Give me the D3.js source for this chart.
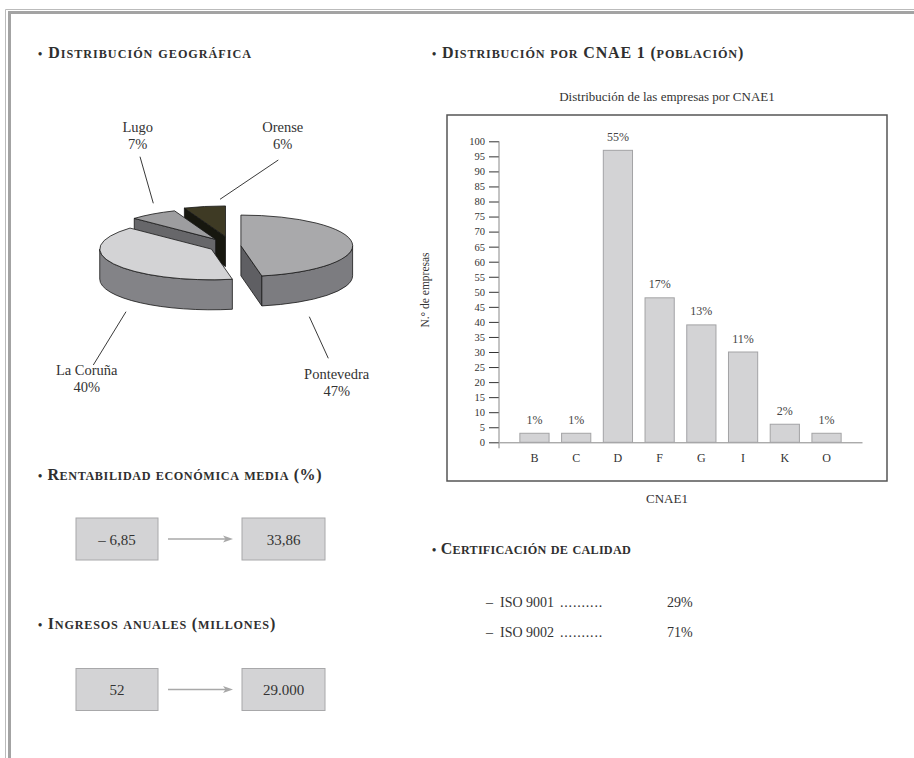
<!DOCTYPE html>
<html>
<head>
<meta charset="utf-8">
<script src="https://cdn.jsdelivr.net/npm/d3@7"></script>
<style>
  html, body { margin: 0; padding: 0; background: #fff; }
  svg { display: block; }
</style>
</head>
<body>
<svg id="page" width="914" height="758"></svg>
<script>
// ---- data ----
// Distribución geográfica (% de empresas por provincia)
const provincias = ["Pontevedra", "La Coruña", "Lugo", "Orense"];
const provinciaPct = [47, 40, 7, 6];

// Distribución por CNAE 1
const cnaeCodes = ["B", "C", "D", "F", "G", "I", "K", "O"];
const cnaeEmpresas = [3, 3, 97, 48, 39, 30, 6, 3];
const cnaePct = [1, 1, 55, 17, 13, 11, 2, 1];
const yTickValues = d3.range(0, 101, 5);

// Rentabilidad económica media (%) e ingresos anuales (millones): mínimo → máximo
const rentabilidad = [-6.85, 33.86];
const ingresos = [52, 29000];

// Certificación de calidad
const isoNormas = ["ISO 9001", "ISO 9002"];
const isoPct = [29, 71];

// ---- setup ----
const svg = d3.select("#page");
const serif = "'Liberation Serif', 'Times New Roman', serif";
const ink = "#333";
const es = d3.formatLocale({ decimal: ",", thousands: ".", grouping: [3], currency: ["", "€"] });
const fmtDec = es.format(",.2f");
const fmtInt = es.format(",d");
const signed = v => (v < 0 ? "– " + fmtDec(-v) : fmtDec(v));

// page frame (double rule top and left)
svg.append("path").attr("d", "M5.5,758V9.5H914")
  .attr("fill", "none").attr("stroke", "#bbbbbb").attr("stroke-width", 1);
svg.append("path").attr("d", "M9.5,758V12.5H914")
  .attr("fill", "none").attr("stroke", "#a3a3a3").attr("stroke-width", 3);

// section heading in small caps, spread to a given width
function heading(x, y, label, width) {
  const t = svg.append("text")
    .attr("x", x).attr("y", y)
    .attr("font-family", serif).attr("font-weight", "bold")
    .attr("fill", "#2f2f2f").attr("font-size", 16);
  t.append("tspan").attr("font-size", 12).text("•");
  t.append("tspan").text(" ");
  const runs = [];
  for (const ch of label) {
    const lower = ch !== ch.toUpperCase();
    const last = runs[runs.length - 1];
    if (last && last.lower === lower) last.s += ch; else runs.push({ lower, s: ch });
  }
  runs.forEach(r => t.append("tspan")
    .attr("font-size", r.lower ? 12.2 : 16)
    .text(r.lower ? r.s.toUpperCase() : r.s));
  const natural = t.node().getComputedTextLength();
  const n = t.text().length;
  t.attr("letter-spacing", Math.max(0, (width - natural) / n).toFixed(3));
}

heading(38, 58, "Distribución geográfica", 214);
heading(432, 58, "Distribución por CNAE 1 (población)", 312);
heading(38, 480, "Rentabilidad económica media (%)", 284);
heading(38, 629, "Ingresos anuales (millones)", 238);
heading(432, 554, "Certificación de calidad", 199);

// ---- 3D exploded pie ----
const pie3d = { cx: 232, cy: 246, rx: 111.7, ry: 30.7, depth: 30 };
const explode = [0.08, 0.21, 0.26, 0.31];
const sliceColors = [
  { top: "#a9a9ab", rim: "#7c7c80", cut: "#5f5f63" },
  { top: "#d3d3d5", rim: "#838387", cut: "#6a6a6d" },
  { top: "#9d9d9f", rim: "#707073", cut: "#67676a" },
  { top: "#3e3a24", rim: "#1a1a12", cut: "#17170f" }
];
const arcs = d3.pie().sort(null).value(d => d)(provinciaPct).map((a, i) => {
  const mid = (a.startAngle + a.endAngle) / 2;
  const e = explode[i];
  return Object.assign(a, {
    i,
    ox: pie3d.cx + e * pie3d.rx * Math.sin(mid),
    oy: pie3d.cy - e * pie3d.ry * Math.cos(mid)
  });
});

const pieG = svg.append("g")
  .attr("stroke", "#161616").attr("stroke-width", 0.8).attr("stroke-linejoin", "round");

function pt(a, th, dz = 0) {
  return [a.ox + pie3d.rx * Math.sin(th), a.oy - pie3d.ry * Math.cos(th) + dz];
}
const f = p => p[0].toFixed(2) + "," + p[1].toFixed(2);

arcs.slice().sort((p, q) => p.oy - q.oy).forEach(a => {
  const c = sliceColors[a.i];
  const d = pie3d.depth;
  // visible radial cut faces
  const faces = [];
  if (Math.sin(a.startAngle) < -1e-6) faces.push(a.startAngle);
  if (Math.sin(a.endAngle) > 1e-6) faces.push(a.endAngle);
  faces.forEach(th => {
    const p = pt(a, th);
    pieG.append("path")
      .attr("d", `M${f([a.ox, a.oy])}L${f(p)}L${f(pt(a, th, d))}L${f([a.ox, a.oy + d])}Z`)
      .attr("fill", c.cut);
  });
  // front part of the outer rim
  const t0 = Math.max(a.startAngle, Math.PI / 2);
  const t1 = Math.min(a.endAngle, 3 * Math.PI / 2);
  if (t1 > t0) {
    const R = `${pie3d.rx},${pie3d.ry} 0 0`;
    pieG.append("path")
      .attr("d", `M${f(pt(a, t0))}A${R} 1 ${f(pt(a, t1))}L${f(pt(a, t1, d))}A${R} 0 ${f(pt(a, t0, d))}Z`)
      .attr("fill", c.rim);
  }
  // top face
  const large = a.endAngle - a.startAngle > Math.PI ? 1 : 0;
  pieG.append("path")
    .attr("d", `M${f([a.ox, a.oy])}L${f(pt(a, a.startAngle))}A${pie3d.rx},${pie3d.ry} 0 ${large} 1 ${f(pt(a, a.endAngle))}Z`)
    .attr("fill", c.top);
});

// slice labels with leader lines (offsets from the pie centre)
const pieLabelLayout = [
  { lx: 104.7, ly: 128, x1: 77.3, y1: 70.7, x2: 96.3, y2: 112.3 },
  { lx: -145.3, ly: 124, x1: -106, y1: 65.7, x2: -138.7, y2: 119 },
  { lx: -94.3, ly: -119, x1: -78.7, y1: -42.7, x2: -92, y2: -89.3 },
  { lx: 50.7, ly: -119, x1: -12, y1: -46.7, x2: 46.3, y2: -86 }
];
const labG = svg.append("g");
provincias.forEach((name, i) => {
  const L = pieLabelLayout[i];
  labG.append("line")
    .attr("x1", pie3d.cx + L.x1).attr("y1", pie3d.cy + L.y1)
    .attr("x2", pie3d.cx + L.x2).attr("y2", pie3d.cy + L.y2)
    .attr("stroke", "#222").attr("stroke-width", 0.9);
  const t = labG.append("text")
    .attr("text-anchor", "middle").attr("font-family", serif)
    .attr("font-size", 14.5).attr("fill", ink);
  t.append("tspan").attr("x", pie3d.cx + L.lx).attr("y", pie3d.cy + L.ly + 5).text(name);
  t.append("tspan").attr("x", pie3d.cx + L.lx).attr("y", pie3d.cy + L.ly + 21.5).text(provinciaPct[i] + "%");
});

// ---- bar chart ----
const frame = { x: 447, y: 115, w: 440, h: 366 };
svg.append("rect")
  .attr("x", frame.x).attr("y", frame.y).attr("width", frame.w).attr("height", frame.h)
  .attr("fill", "none").attr("stroke", "#555").attr("stroke-width", 1.5);

svg.append("text")
  .attr("x", 667).attr("y", 101).attr("text-anchor", "middle")
  .attr("font-family", serif).attr("font-size", 13).attr("fill", ink)
  .text("Distribución de las empresas por CNAE1");

const plot = { left: 499, right: 862, top: 141.3, bottom: 442.3 };
const x = d3.scaleBand().domain(cnaeCodes).range([plot.left, plot.right])
  .paddingInner(0.3).paddingOuter(0.5);
const y = d3.scaleLinear().domain([0, 100]).range([plot.bottom, plot.top]);

const yAxis = svg.append("g")
  .attr("transform", `translate(${plot.left},0)`)
  .call(d3.axisLeft(y).tickValues(yTickValues).tickSize(10).tickPadding(4).tickSizeOuter(0));
yAxis.select(".domain").remove();
yAxis.selectAll(".tick line").attr("stroke", "#333");
yAxis.selectAll(".tick text")
  .attr("font-family", serif).attr("font-size", 10.5).attr("fill", ink);
svg.append("line")
  .attr("x1", plot.left).attr("x2", plot.left)
  .attr("y1", y(100)).attr("y2", y(0) + 6)
  .attr("stroke", "#888").attr("stroke-width", 1);

const xAxis = svg.append("g")
  .attr("transform", `translate(0,${plot.bottom})`)
  .call(d3.axisBottom(x).tickSize(0).tickPadding(11).tickSizeOuter(0));
xAxis.select(".domain").attr("stroke", "#888");
xAxis.selectAll(".tick text")
  .attr("font-family", serif).attr("font-size", 12).attr("fill", ink);

svg.append("g").selectAll("rect")
  .data(cnaeCodes)
  .join("rect")
  .attr("x", d => x(d))
  .attr("width", x.bandwidth())
  .attr("y", (d, i) => y(cnaeEmpresas[i]))
  .attr("height", (d, i) => y(0) - y(cnaeEmpresas[i]))
  .attr("fill", "#d3d3d5").attr("stroke", "#a3a3a5").attr("stroke-width", 1);

svg.append("g").selectAll("text")
  .data(cnaeCodes)
  .join("text")
  .attr("x", d => x(d) + x.bandwidth() / 2)
  .attr("y", (d, i) => y(cnaeEmpresas[i]) - 9.5)
  .attr("text-anchor", "middle")
  .attr("font-family", serif).attr("font-size", 12).attr("fill", "#444")
  .text((d, i) => cnaePct[i] + "%");

svg.append("text")
  .attr("transform", `translate(429,290) rotate(-90)`)
  .attr("text-anchor", "middle")
  .attr("font-family", serif).attr("font-size", 11.5).attr("fill", ink)
  .text("N.° de empresas");

svg.append("text")
  .attr("x", 667).attr("y", 503).attr("text-anchor", "middle")
  .attr("font-family", serif).attr("font-size", 13).attr("fill", ink)
  .text("CNAE1");

// ---- min → max boxes ----
function rangeBoxes(cy, labels) {
  const g = svg.append("g");
  const boxes = [{ x: 76, w: 82 }, { x: 242, w: 83 }];
  boxes.forEach((b, i) => {
    g.append("rect")
      .attr("x", b.x).attr("y", cy - 21).attr("width", b.w).attr("height", 42)
      .attr("fill", "#d3d3d5").attr("stroke", "#a8a8aa").attr("stroke-width", 1);
    g.append("text")
      .attr("x", b.x + b.w / 2).attr("y", cy + 5.5).attr("text-anchor", "middle")
      .attr("font-family", serif).attr("font-size", 15).attr("fill", ink)
      .text(labels[i]);
  });
  g.append("line")
    .attr("x1", 168).attr("x2", 226).attr("y1", cy).attr("y2", cy)
    .attr("stroke", "#a8a8a8").attr("stroke-width", 1.3);
  g.append("path")
    .attr("d", `M233,${cy}L223,${cy - 3.5}L225.5,${cy}L223,${cy + 3.5}Z`)
    .attr("fill", "#a8a8a8");
}
rangeBoxes(539, rentabilidad.map(signed));
rangeBoxes(689.5, ingresos.map(v => fmtInt(v)));

// ---- certification list ----
isoNormas.forEach((n, i) => {
  const yy = 607 + i * 30;
  const t = svg.append("text").attr("y", yy)
    .attr("font-family", serif).attr("font-size", 14).attr("fill", ink);
  t.append("tspan").attr("x", 486).text("–");
  t.append("tspan").attr("x", 500).text(n);
  t.append("tspan").attr("x", 560).attr("letter-spacing", 0.8).text("..........");
  t.append("tspan").attr("x", 667).text(isoPct[i] + "%");
});
</script>
</body>
</html>
